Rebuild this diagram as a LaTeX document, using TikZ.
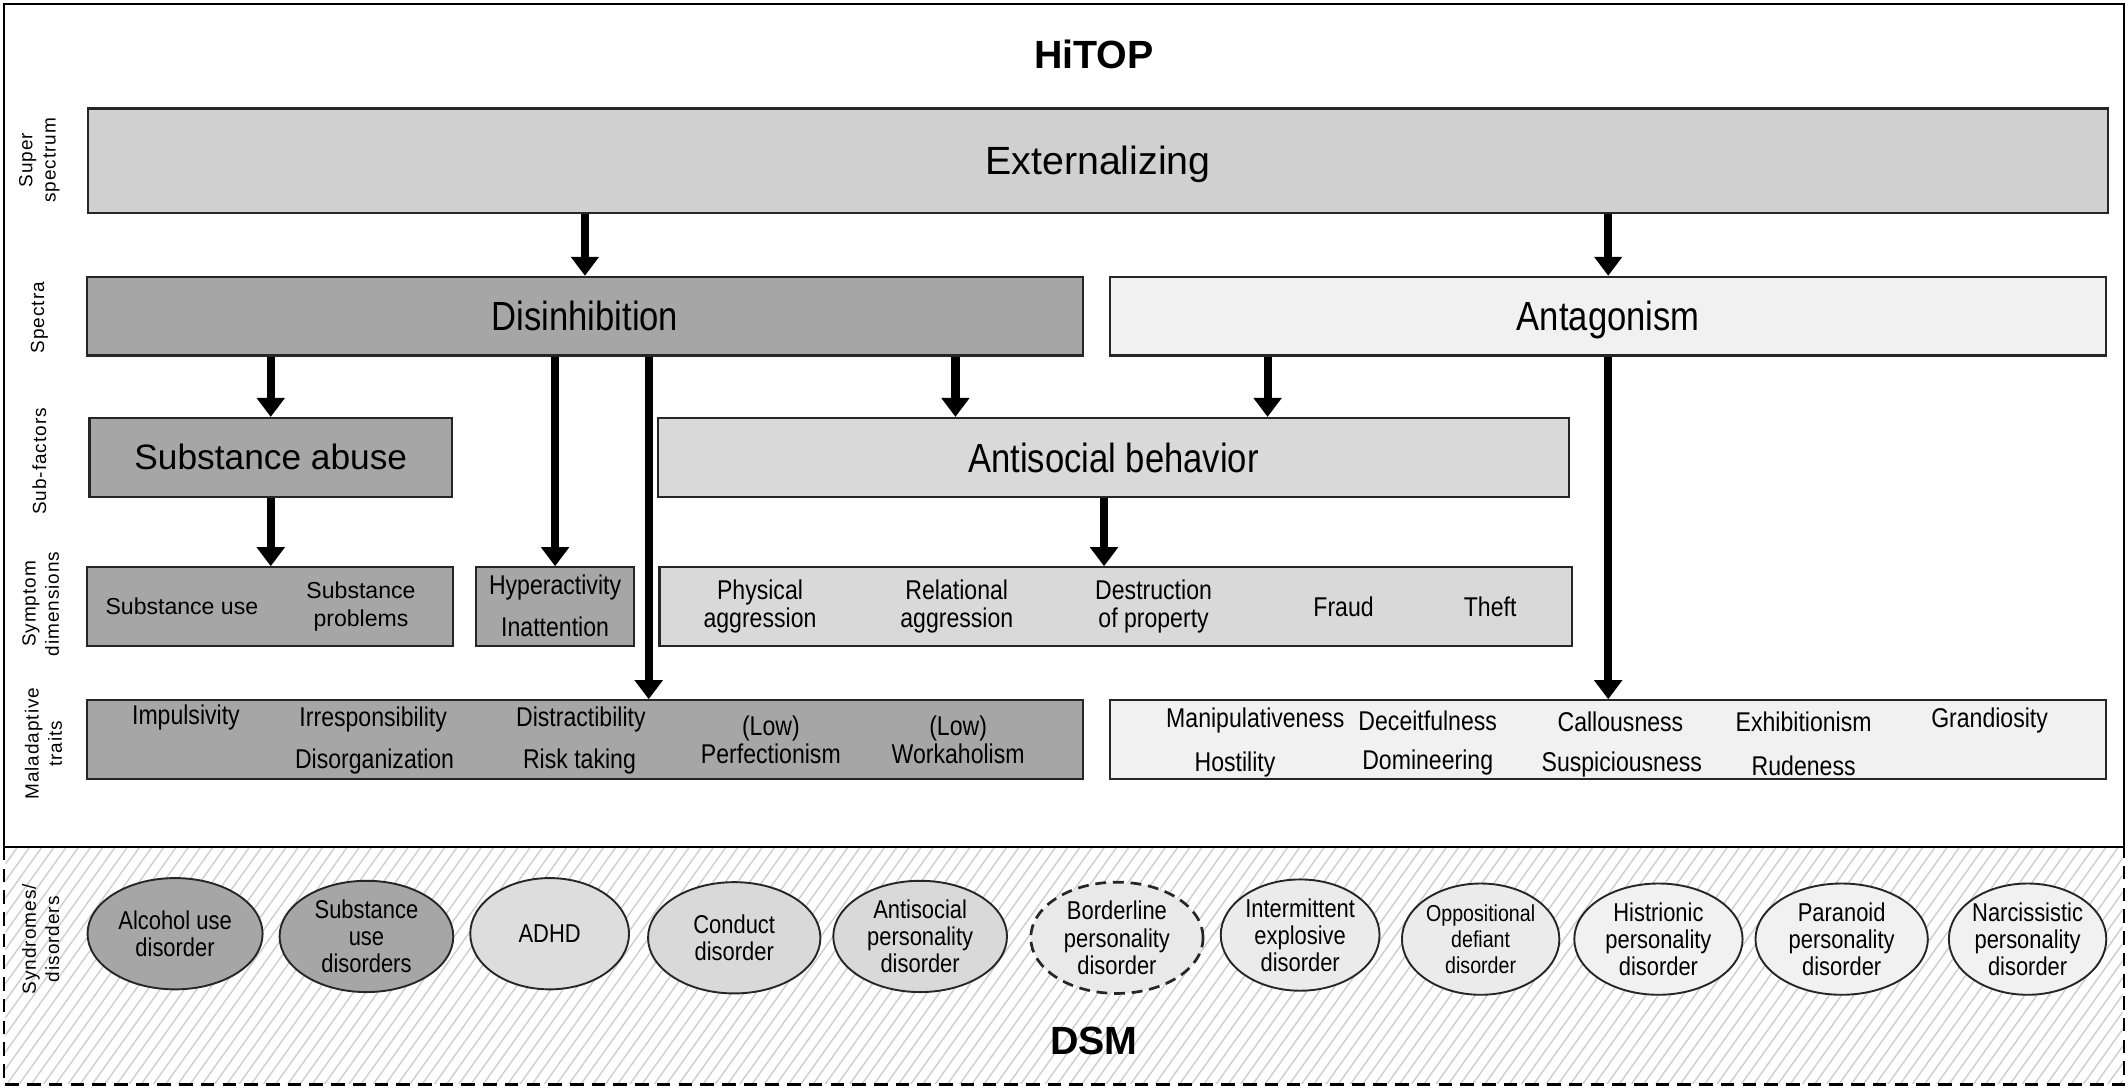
\documentclass[tikz,border=0pt]{standalone}
\usepackage{fontspec}
\setmainfont{Liberation Sans}
\newfontfamily\narrowfont[FakeStretch=0.85]{Liberation Sans}
\newfontfamily\rowfont[LetterSpace=5]{Liberation Sans}
\usetikzlibrary{positioning,shapes.geometric,arrows.meta,calc}
\tikzset{line/.style={draw, line width=3pt, -{Triangle[width=10pt,length=7pt]}}}

\begin{document}
\begin{tikzpicture}[x=0.5pt, y=-0.5pt,
  box/.style = {draw=black!85, line width=0.8pt, minimum height=29pt, inner sep=0pt},
  head/.style = {font=\narrowfont\fontsize{15}{16}\selectfont, text height=10.8pt, text depth=0pt},
  txt/.style = {font=\narrowfont\fontsize{10}{10.5}\selectfont, align=center, inner sep=0pt},
  row/.style = {font=\rowfont\fontsize{7}{8.5}\selectfont, rotate=90, align=center, inner sep=0pt},
  dis/.style = {draw=black!85, line width=0.7pt, ellipse, minimum height=41pt, inner sep=-6pt, align=center, font=\narrowfont\fontsize{9.5}{10}\selectfont}]
\useasboundingbox (0,0) rectangle (1568,802.4);
\definecolor{dark}{gray}{0.65}
\definecolor{mid}{gray}{0.85}
\definecolor{pale}{gray}{0.945}

\begin{scope}
\clip (4,625) rectangle (1564,798);
\foreach \x in {-130,-121,...,1570}
  \draw[black!20, line width=0.5pt] (\x,799) -- ++(125,-175);
\end{scope}
\draw[line width=1pt] (3,3) rectangle (1565,624);
\draw[line width=1pt, dash pattern=on 5pt off 3pt] (3,624) -- (3,799) -- (1565,799) -- (1565,624);

\node[font=\bfseries\fontsize{14.5}{16}\selectfont] (hitop) at (806,40) {HiTOP};
\node[font=\bfseries\fontsize{14.5}{16}\selectfont] (dsm) at (806,767) {DSM};

\node[row] (r1) at (29,118) {Super\\spectrum};
\node[row] (r2) at (29,234) {Spectra};
\node[row] (r3) at (29,340) {Sub-factors};
\node[row] (r4) at (30,445) {Symptom\\dimensions};
\node[row] (r5) at (32,548) {Maladaptive\\traits};
\node[row] (r6) at (30,692) {Syndromes/\\disorders};

\node[box, fill=gray!37, minimum width=744pt, minimum height=38.5pt, font=\fontsize{14.5}{16}\selectfont, text height=10.4pt, text depth=0pt] (1) at (809,118.5) {Externalizing};
\node[box, head, fill=dark, minimum width=367pt] (2) at (431,233) {Disinhibition};
\node[box, head, fill=pale, minimum width=367pt] (3) at (1185,233) {Antagonism};
\node[box, fill=dark, minimum width=133.5pt, font=\fontsize{13}{15}\selectfont] (4) at (199.5,337) {Substance abuse};
\node[box, head, fill=mid, minimum width=335.5pt] (5) at (820.5,337) {Antisocial behavior};
\node[box, fill=dark, minimum width=135pt] (6) at (199,447) {};
\node[box, fill=dark, minimum width=58pt] (7) at (409,447) {};
\node[box, fill=mid, minimum width=336pt] (8) at (822,447) {};
\node[box, fill=dark, minimum width=367pt] (9) at (431,545) {};
\node[box, fill=pale, minimum width=367pt] (10) at (1185,545) {};

\node[txt, font=\fontsize{8.5}{10}\selectfont] (s1) at (134,447) {Substance use};
\node[txt, font=\fontsize{8.5}{10.5}\selectfont] (s2) at (266,447) {Substance\\problems};
\node[txt] (s3) at (409,433) {Hyperactivity};
\node[txt] (s4) at (409,462) {Inattention};
\foreach \x/\t [count=\i] in {560/{Physical\\aggression}, 705/{Relational\\aggression},
    850/{Destruction\\of property}, 990/Fraud, 1098/Theft}
  \node[txt] (p\i) at (\x,447) {\t};

\foreach \x/\y/\t [count=\i] in {137/529/Impulsivity, 275/530/Irresponsibility, 428/530/Distractibility,
    276/561/Disorganization, 427/561/Risk taking, 568/545/{(Low)\\Perfectionism}, 706/545/{(Low)\\Workaholism}}
  \node[txt] (m\i) at (\x,\y) {\t};
\foreach \x/\y/\t [count=\i] in {925/531/Manipulativeness, 1052/531/Deceitfulness, 1194/532/Callousness,
    1329/532/Exhibitionism, 1466/531/Grandiosity, 910/563/Hostility, 1052/562/Domineering,
    1195/563/Suspiciousness, 1329/564/Rudeness}
  \node[txt] (n\i) at (\x,\y) {\t};

\node[dis, fill=dark, minimum width=64.5pt] (d1) at (129,688) {Alcohol use\\disorder};
\node[dis, fill=dark, minimum width=64pt] (d2) at (270,690) {Substance\\use\\disorders};
\node[dis, fill=gray!27, minimum width=58.5pt] (d3) at (405,688) {ADHD};
\node[dis, fill=mid, minimum width=63.5pt] (d4) at (541,691) {Conduct\\disorder};
\node[dis, fill=mid, minimum width=64pt] (d5) at (678,690) {Antisocial\\personality\\disorder};
\node[dis, fill=gray!17, minimum width=63.5pt, dash pattern=on 4pt off 2.5pt, line width=1pt] (d6) at (823,691) {Borderline\\personality\\disorder};
\node[dis, fill=gray!16, minimum width=58.5pt] (d7) at (958,689) {Intermittent\\explosive\\disorder};
\node[dis, fill=gray!16, minimum width=58pt, font=\narrowfont\fontsize{8.5}{9.5}\selectfont] (d8) at (1091,692) {Oppositional\\defiant\\disorder};
\node[dis, fill=pale, minimum width=62pt] (d9) at (1222,692) {Histrionic\\personality\\disorder};
\node[dis, fill=pale, minimum width=63.5pt] (d10) at (1357,692) {Paranoid\\personality\\disorder};
\node[dis, fill=pale, minimum width=58pt] (d11) at (1494,692) {Narcissistic\\personality\\disorder};

\coordinate (c1) at ($(2.south)+(47,0)$);
\coordinate (c2) at ($(2.south)+(273,0)$);
\coordinate (c3) at ($(3.south)+(-251,0)$);
\coordinate (c4) at ($(5.south)+(-7,0)$);
\draw[line] (1.south -| 2.north) -- (2.north);
\draw[line] (1.south -| 3.north) -- (3.north);
\draw[line] (2.south -| 4.north) -- (4.north);
\draw[line] (2.south -| 7.north) -- (7.north);
\draw[line] (c1) -- (c1 |- 9.north);
\draw[line] (c2) -- (c2 |- 5.north);
\draw[line] (c3) -- (c3 |- 5.north);
\draw[line] (3.south) -- (10.north);
\draw[line] (4.south) -- (4.south |- 6.north);
\draw[line] (c4) -- (c4 |- 8.north);
\end{tikzpicture}
\end{document}
